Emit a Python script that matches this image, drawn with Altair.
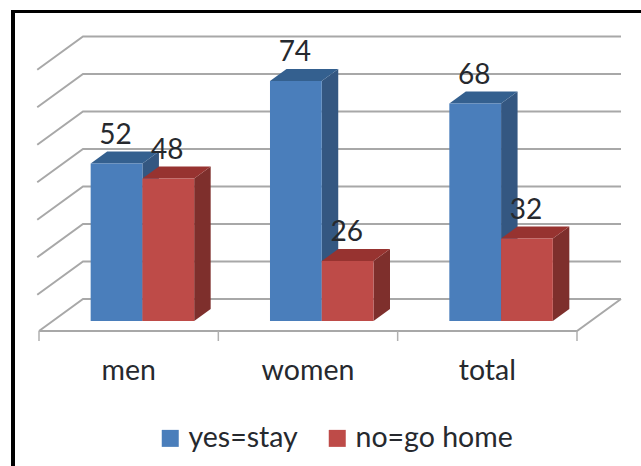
import altair as alt
import pandas as pd

categories = ["men", "women", "total"]
yes_values = [52, 74, 68]
no_values = [48, 26, 32]
grid_values = [10, 20, 30, 40, 50, 60, 70, 80]
series_names = ["yes=stay", "no=go home"]
front_colors = ["#4A7EBB", "#BE4B48"]
top_colors = ["#34608F", "#973330"]
side_colors = ["#345781", "#7E2F2C"]

# Oblique projection: a point is (category position, value, depth 0..1).
W, H = 641, 466
CAT_PX, VAL_PX = 179.33, 3.75
LEFT_PX, BASE_PX = 39, 321
DEPTH_X, DEPTH_Y = 44 / CAT_PX, 32 / VAL_PX
BAR_NEAR, BAR_FAR = 0.3125, 0.6875
BAR_W = 0.2886


def px(cat, d):
    return cat + d * DEPTH_X


def py(val, d):
    return val + (d - BAR_NEAR) * DEPTH_Y


x_scale = alt.Scale(domain=[-LEFT_PX / CAT_PX, (W - LEFT_PX) / CAT_PX], nice=False, zero=False)
y_scale = alt.Scale(domain=[10 - (H - BASE_PX) / VAL_PX, 10 + BASE_PX / VAL_PX], nice=False, zero=False)
X = alt.X("x:Q", scale=x_scale, axis=None)
Y = alt.Y("y:Q", scale=y_scale, axis=None)

# Gridlines run up the left wall and along the back wall.
grid_rows = []
for v in grid_values:
    start = 0 if v == 10 else -0.04
    for i, (cat, d) in enumerate([(0, start), (0, 1), (3, 1)]):
        grid_rows.append({"x": px(cat, d), "y": py(v, d), "id": f"g{v}", "o": i})
for i, (cat, d) in enumerate([(0, 0), (3, 0), (3, 1)]):
    grid_rows.append({"x": px(cat, d), "y": py(10, d), "id": "floor", "o": i})
grid = alt.Chart(pd.DataFrame(grid_rows)).mark_line(color="#A8A8A8", strokeWidth=2).encode(
    x=X, y=Y, detail="id:N", order="o:Q"
)

# Tick marks along the front edge of the floor.
tick_rows = [{"x": float(i), "y": py(10, 0), "y2": py(10, 0) - 10 / VAL_PX} for i in range(4)]
ticks = alt.Chart(pd.DataFrame(tick_rows)).mark_rule(color="#B0B0B0", strokeWidth=1.5).encode(
    x=X, y=Y, y2="y2:Q"
)

# Faces of every bar, one table per face type.
front_rows, top_rows, side_rows, label_rows = [], [], [], []
for c, cat in enumerate(categories):
    for s, val in enumerate((yes_values[c], no_values[c])):
        x0 = c + 0.5 - BAR_W + s * BAR_W
        x1 = x0 + BAR_W
        bar_id = f"{cat}-{s}"
        base = {"id": bar_id, "s": s, "name": series_names[s]}
        front_rows.append({**base, "x": px(x0, BAR_NEAR), "x2": px(x1, BAR_NEAR),
                           "y": py(val, BAR_NEAR), "y2": py(10, BAR_NEAR)})
        for d in (BAR_NEAR, BAR_FAR):
            top_rows.append({**base, "x": px(x0, d), "x2": px(x1, d), "y": py(val, d)})
            side_rows.append({**base, "x": px(x1, d), "y": py(val, d), "y2": py(10, d)})
        label_rows.append({"x": px((x0 + x1) / 2, BAR_NEAR), "y": py(val, BAR_NEAR), "text": str(val)})

layers = [grid, ticks]
for s in range(2):
    side = alt.Chart(pd.DataFrame([r for r in side_rows if r["s"] == s])).mark_area(
        color=side_colors[s], orient="vertical", line=False
    ).encode(x=X, y=Y, y2="y2:Q", detail="id:N")
    top = alt.Chart(pd.DataFrame([r for r in top_rows if r["s"] == s])).mark_area(
        color=top_colors[s], orient="horizontal", line=False
    ).encode(x=X, x2="x2:Q", y=Y, detail="id:N")
    front = alt.Chart(pd.DataFrame([r for r in front_rows if r["s"] == s])).mark_rect().encode(
        x=X, x2="x2:Q", y=Y, y2="y2:Q",
        color=alt.Color(
            "name:N",
            scale=alt.Scale(domain=series_names, range=front_colors),
            sort=series_names,
            legend=alt.Legend(
                title=None, orient="none", direction="horizontal",
                legendX=156, legendY=424, columns=2, columnPadding=25,
                symbolType="square", symbolSize=289, symbolStrokeWidth=0, symbolOpacity=1,
                labelFont="Lato", labelFontSize=28.5, labelColor="#26292E", labelOffset=4,
                labelLimit=300,
            ),
        ),
    )
    layers += [side, top, front]

value_labels = alt.Chart(pd.DataFrame(label_rows)).mark_text(
    font="Lato", fontSize=28, color="#26292E", baseline="alphabetic", align="center", dy=-20, dx=-1
).encode(x=X, y=Y, text="text:N")

cat_rows = [{"x": i + 0.5, "y": py(10, 0), "text": c} for i, c in enumerate(categories)]
cat_labels = alt.Chart(pd.DataFrame(cat_rows)).mark_text(
    font="Lato", fontSize=28.5, color="#26292E", baseline="alphabetic", align="center", dy=49
).encode(x=X, y=Y, text="text:N")

# Black frame along the top and left edges.
frame_top = alt.Chart(pd.DataFrame({"a": [0]})).mark_rule(color="#000000", strokeWidth=3).encode(
    x=alt.value(11), x2=alt.value(W), y=alt.value(11.5)
)
frame_left = alt.Chart(pd.DataFrame({"a": [0]})).mark_rule(color="#000000", strokeWidth=4).encode(
    x=alt.value(13), y=alt.value(10), y2=alt.value(H)
)

chart = alt.layer(*layers, value_labels, cat_labels, frame_top, frame_left).resolve_scale(
    color="shared"
).properties(
    width=W, height=H, padding=0, autosize=alt.AutoSizeParams(type="none"), background="#FFFFFF"
).configure_view(stroke=None)

chart.save("out.html", embed_options={"renderer": "svg", "actions": False})
